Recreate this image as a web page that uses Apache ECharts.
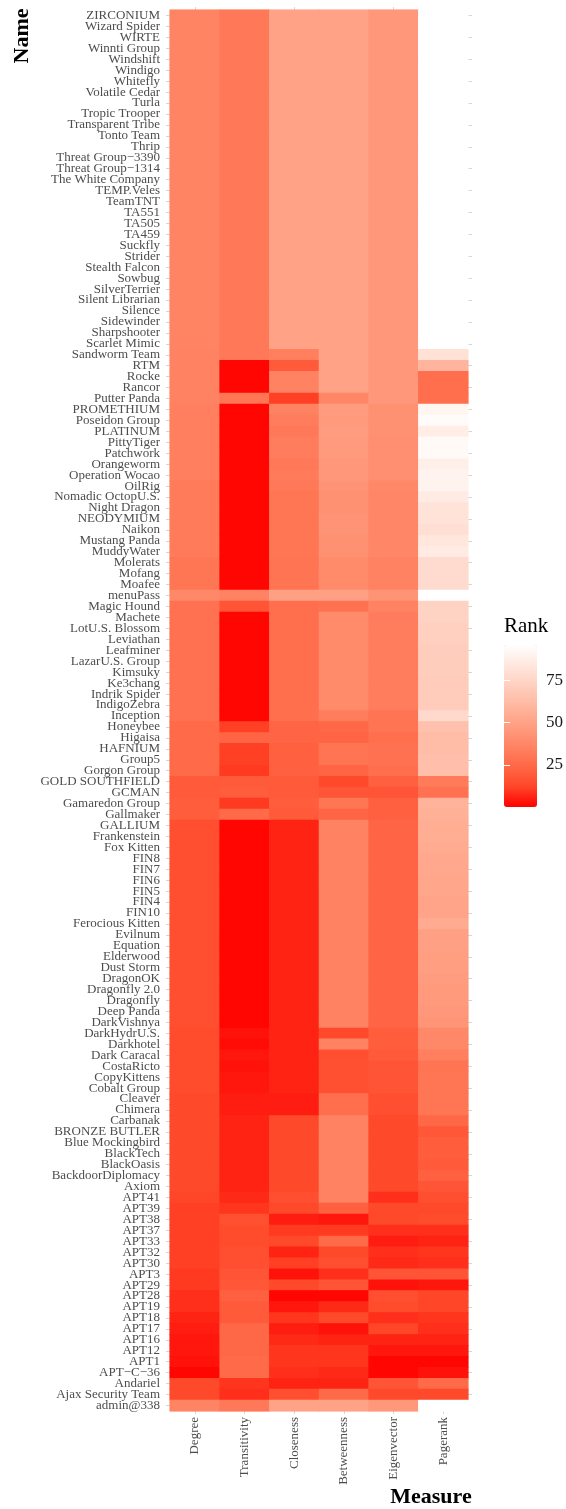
<!DOCTYPE html>
<html>
<head>
<meta charset="utf-8">
<script src="https://cdn.jsdelivr.net/npm/echarts@6/dist/echarts.min.js"></script>
<style>
html,body{margin:0;padding:0;background:#fff;}
#c{width:566px;height:1509px;}
</style>
</head>
<body>
<div id="c"></div>
<script>
const measures = ['Degree','Transitivity','Closeness','Betweenness','Eigenvector','Pagerank'];
const names = ['ZIRCONIUM','Wizard Spider','WIRTE','Winnti Group','Windshift','Windigo','Whitefly','Volatile Cedar','Turla','Tropic Trooper',
'Transparent Tribe','Tonto Team','Thrip','Threat Group\u22123390','Threat Group\u22121314','The White Company','TEMP.Veles','TeamTNT','TA551','TA505',
'TA459','Suckfly','Strider','Stealth Falcon','Sowbug','SilverTerrier','Silent Librarian','Silence','Sidewinder','Sharpshooter',
'Scarlet Mimic','Sandworm Team','RTM','Rocke','Rancor','Putter Panda','PROMETHIUM','Poseidon Group','PLATINUM','PittyTiger',
'Patchwork','Orangeworm','Operation Wocao','OilRig','Nomadic OctopU.S.','Night Dragon','NEODYMIUM','Naikon','Mustang Panda','MuddyWater',
'Molerats','Mofang','Moafee','menuPass','Magic Hound','Machete','LotU.S. Blossom','Leviathan','Leafminer','LazarU.S. Group',
'Kimsuky','Ke3chang','Indrik Spider','IndigoZebra','Inception','Honeybee','Higaisa','HAFNIUM','Group5','Gorgon Group',
'GOLD SOUTHFIELD','GCMAN','Gamaredon Group','Gallmaker','GALLIUM','Frankenstein','Fox Kitten','FIN8','FIN7','FIN6',
'FIN5','FIN4','FIN10','Ferocious Kitten','Evilnum','Equation','Elderwood','Dust Storm','DragonOK','Dragonfly 2.0',
'Dragonfly','Deep Panda','DarkVishnya','DarkHydrU.S.','Darkhotel','Dark Caracal','CostaRicto','CopyKittens','Cobalt Group','Cleaver',
'Chimera','Carbanak','BRONZE BUTLER','Blue Mockingbird','BlackTech','BlackOasis','BackdoorDiplomacy','Axiom','APT41','APT39',
'APT38','APT37','APT33','APT32','APT30','APT3','APT29','APT28','APT19','APT18',
'APT17','APT16','APT12','APT1','APT\u2212C\u221236','Andariel','Ajax Security Team','admin@338'];

const degree = [36,36,36,36,36,36,36,36,36,36,
36,36,36,36,36,36,36,36,36,36,
36,36,36,36,36,36,36,36,36,36,
36,35,35,35,35,35,34,34,34,34,
34,34,34,32,32,32,32,32,32,32,
30,30,30,38,28,28,28,28,28,28,
28,28,28,28,28,25,25,25,25,25,
19,19,20,20,15,15,15,15,15,15,
15,15,15,15,15,15,15,15,15,15,
15,15,15,14,14,14,14,14,14,13,
13,13,13,13,13,13,13,13,12,11,
11,11,11,11,11,10,10,8,8,6,
5,4,4,3,1,13,13,36];

const transitivity = [31,31,31,31,31,31,31,31,31,31,
31,31,31,31,31,31,31,31,31,31,
31,31,31,31,31,31,31,31,31,31,
31,31,1,1,1,30,1,1,1,1,
1,1,1,1,1,1,1,1,1,1,
1,1,1,35,17,1,1,1,1,1,
1,1,1,1,1,11,23,11,11,10,
19,20,10,25,1,1,1,1,1,1,
1,1,1,1,1,1,1,1,1,1,
1,1,1,3,2,4,3,4,4,5,
5,6,6,6,6,6,6,6,7,9,
16,14,14,15,15,17,18,21,19,19,
24,24,24,25,25,9,8,31];

const closeness = [50,50,50,50,50,50,50,50,50,50,
50,50,50,50,50,50,50,50,50,50,
50,50,50,50,50,50,50,50,50,50,
50,34,19,35,35,11,35,33,31,33,
33,31,32,31,30,30,30,30,30,30,
29,29,29,49,27,27,27,27,27,27,
27,27,27,27,27,23,23,21,21,21,
19,19,20,19,6,6,6,6,6,6,
6,6,6,6,6,6,6,6,6,6,
6,6,6,6,6,6,6,6,6,5,
5,13,13,13,13,13,13,13,15,13,
5,10,13,6,11,3,13,1,4,9,
5,7,9,9,8,6,15,50];

const betweenness = [50,50,50,50,50,50,50,50,50,50,
50,50,50,50,50,50,50,50,50,50,
50,50,50,50,50,50,50,50,50,50,
50,50,50,50,50,37,47,46,47,46,
46,45,45,43,42,42,43,43,42,42,
39,39,39,49,28,39,39,39,39,39,
39,39,39,39,33,24,23,29,29,23,
13,17,30,23,35,35,35,35,35,35,
35,35,35,35,35,35,35,35,35,35,
35,35,35,13,35,15,16,16,16,27,
27,35,35,35,35,35,35,35,35,21,
4,10,25,13,15,8,17,1,7,13,
3,6,9,9,7,6,25,50];

const eigenvector = [45,45,45,45,45,45,45,45,45,45,
45,45,45,45,45,45,45,45,45,45,
45,45,45,45,45,45,45,45,45,45,
45,45,45,45,45,45,42,42,42,41,
41,41,41,38,37,37,37,37,37,37,
35,35,35,43,35,33,33,33,33,33,
33,33,33,33,29,29,27,28,28,27,
21,17,21,21,23,23,23,23,23,23,
23,23,23,23,23,23,23,23,23,23,
23,23,23,20,20,19,17,17,17,15,
15,13,13,13,13,13,13,13,8,13,
13,8,5,8,7,17,3,15,14,8,
12,6,4,1,1,17,13,45];

const pagerank = [96,96,96,96,96,96,96,96,96,96,
96,96,96,96,96,96,96,96,96,96,
96,96,96,96,96,96,96,96,96,96,
96,81,59,27,27,27,91,94,87,93,
93,88,90,90,86,82,82,80,84,86,
78,78,78,96,74,74,72,72,71,71,
71,70,70,70,77,65,63,63,64,64,
32,28,58,57,55,55,54,53,53,52,
52,51,51,54,49,49,48,48,47,46,
46,45,44,38,38,34,29,30,30,30,
30,24,18,20,20,19,21,17,15,13,
14,8,6,9,8,17,4,12,12,9,
8,6,4,1,3,25,13,96];

const rankMin = 0;
const rankMax = 96;
const legendTicks = [25, 50, 75];

const seriesByMeasure = [degree, transitivity, closeness, betweenness, eigenvector, pagerank];
const cells = [];
seriesByMeasure.forEach((arr, xi) => {
  arr.forEach((v, yi) => { cells.push([xi, yi, v]); });
});

const SERIF = '"Liberation Serif", "DejaVu Serif", serif';
const GRIDLINE = '#d6d6d6';
// red -> white, sampled in Lab space (like ggplot's gradient)
const rampColors = ['#ff0000','#ff4628','#ff6846','#ff8464','#ff9e81','#ffb7a0','#ffcfbf','#ffe7de','#ffffff'];

// the tile layer is painted a few times over so that the anti-aliased
// seams between fractional-height rows do not show the white background
const tileLayers = [0, 1, 2].map(() => ({
  type: 'heatmap', xAxisIndex: 0, yAxisIndex: 0, data: cells,
  itemStyle: {borderWidth: 0},
  emphasis: {disabled: true}, silent: true
}));

const chart = echarts.init(document.getElementById('c'), null, {renderer: 'canvas'});
chart.setOption({
  animation: false,
  backgroundColor: '#ffffff',
  grid: [
    {left: 170, top: 10, width: 298, height: 1401, containLabel: false},
    {left: 504, top: 645, width: 33, height: 162, containLabel: false}
  ],
  xAxis: [
    {type: 'category', gridIndex: 0, data: measures, position: 'bottom',
     axisLine: {show: false}, splitLine: {show: false},
     axisTick: {show: true, alignWithLabel: true, length: 3, lineStyle: {color: GRIDLINE}},
     axisLabel: {rotate: 90, margin: 6, fontFamily: SERIF, fontSize: 13, color: '#4d4d4d', interval: 0}},
    {type: 'category', gridIndex: 0, data: measures, position: 'top',
     axisLine: {show: false}, splitLine: {show: false},
     axisTick: {show: true, alignWithLabel: true, length: 3, lineStyle: {color: GRIDLINE}},
     axisLabel: {show: false}},
    {type: 'value', gridIndex: 1, show: false, min: 0, max: 1}
  ],
  yAxis: [
    {type: 'category', gridIndex: 0, data: names, inverse: true, position: 'left',
     axisLine: {show: false}, splitLine: {show: false},
     axisTick: {show: true, alignWithLabel: true, length: 4, lineStyle: {color: GRIDLINE}},
     axisLabel: {interval: 0, margin: 10, fontFamily: SERIF, fontSize: 13, color: '#4d4d4d'}},
    {type: 'category', gridIndex: 0, data: names, inverse: true, position: 'right',
     axisLine: {show: false}, splitLine: {show: false},
     axisTick: {show: true, alignWithLabel: true, length: 4, lineStyle: {color: GRIDLINE}},
     axisLabel: {show: false}},
    {type: 'value', gridIndex: 1, min: rankMin, max: rankMax, position: 'right', z: 10,
     axisLine: {show: false}, splitLine: {show: false},
     axisTick: {show: true, inside: true, length: 6, customValues: legendTicks, lineStyle: {color: '#ffffff', width: 1}},
     axisLabel: {show: true, customValues: legendTicks, margin: 10, fontFamily: SERIF, fontSize: 17, color: '#1a1a1a'}},
    {type: 'value', gridIndex: 1, min: rankMin, max: rankMax, position: 'left', z: 10,
     axisLine: {show: false}, splitLine: {show: false},
     axisTick: {show: true, inside: true, length: 6, customValues: legendTicks, lineStyle: {color: '#ffffff', width: 1}},
     axisLabel: {show: false}}
  ],
  visualMap: {
    type: 'continuous', seriesIndex: [0, 1, 2], min: rankMin, max: rankMax,
    calculable: false, hoverLink: false, realtime: false,
    left: 504, top: 645, itemWidth: 33, itemHeight: 162, padding: 0,
    text: null, showLabel: false,
    inRange: {color: rampColors}
  },
  graphic: [
    {type: 'text', x: 22, y: 36, rotation: Math.PI / 2,
     style: {text: 'Name', font: 'bold 22px ' + SERIF, fill: '#000', textAlign: 'center', textVerticalAlign: 'middle'}},
    {type: 'text', x: 431, y: 1497,
     style: {text: 'Measure', font: 'bold 22px ' + SERIF, fill: '#000', textAlign: 'center', textVerticalAlign: 'middle'}},
    {type: 'text', x: 504, y: 626,
     style: {text: 'Rank', font: '21px ' + SERIF, fill: '#000', textAlign: 'left', textVerticalAlign: 'middle'}}
  ],
  series: tileLayers
});
</script>
</body>
</html>
